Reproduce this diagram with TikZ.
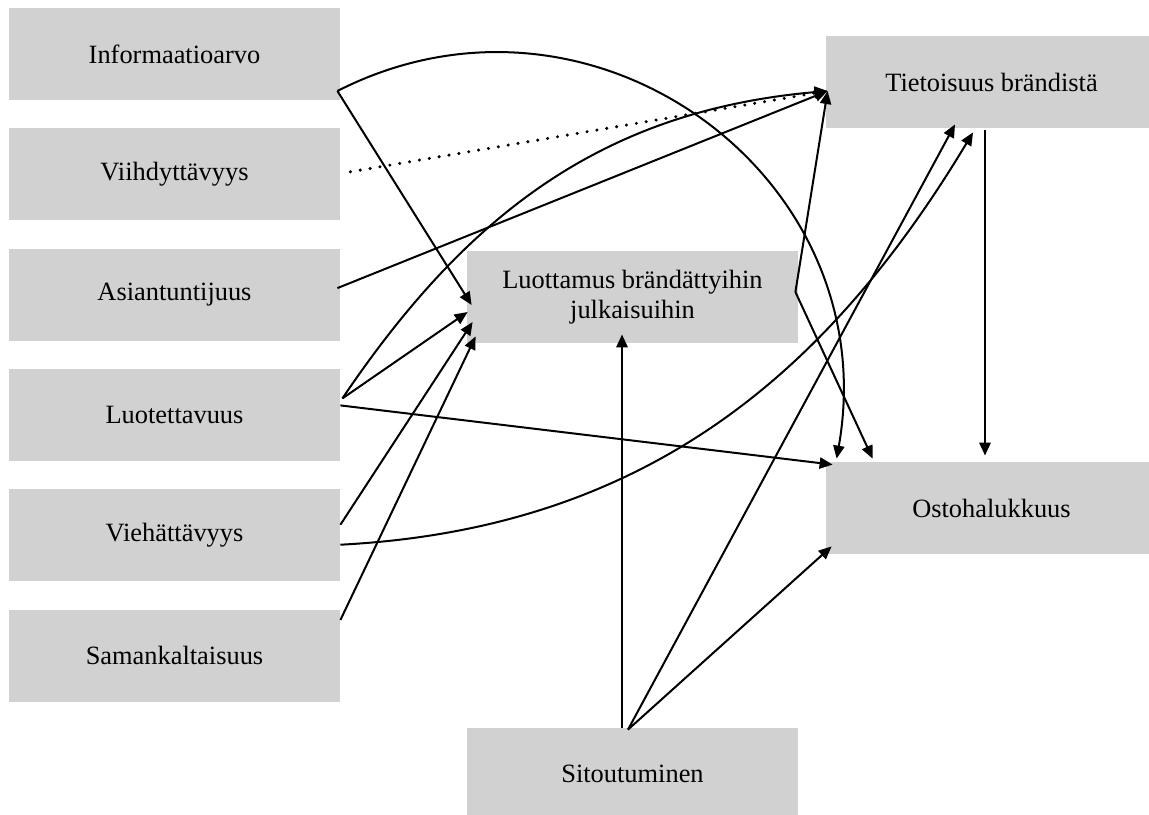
\documentclass[tikz,border=0pt]{standalone}
\usepackage{fontspec}
\setmainfont{Liberation Serif}
\usetikzlibrary{arrows.meta}
\definecolor{boxgray}{RGB}{209,209,209}

\begin{document}
\begin{tikzpicture}[x=0.5pt,y=-0.5pt,
  factor/.style={fill=boxgray,minimum width=165.5pt,minimum height=46pt,inner sep=2pt,align=center,
    font=\fontsize{13.2}{14.8}\selectfont},
  link/.style={line width=1pt,-{Triangle[length=6.5pt,width=5.6pt]}},
  heavy/.style={link,line width=1.25pt},
  dotline/.style={link,line width=1.7pt,line cap=round,dash pattern=on 0pt off 5pt}]
\useasboundingbox (0,0) rectangle (1149,814);
\def\dy{120.3}
\foreach \nm/\txt [count=\i from 0] in {info/Informaatioarvo,viih/Viihdyttävyys,asi/Asiantuntijuus,luot/Luotettavuus,vieh/Viehättävyys,saman/Samankaltaisuus}
  \node[factor] (\nm) at (174.5,{54+\dy*\i}) {\txt};
\node[factor] (trust) at (632.5,297) {Luottamus brändättyihin\\julkaisuihin};
\node[factor] (aware) at (991.5,82) {Tietoisuus brändistä};
\node[factor] (buy) at (991.5,508) {Ostohalukkuus};
\node[factor] (commit) at (632.5,774) {Sitoutuminen};

\coordinate (infoout) at ([shift={(-3,37)}]info.east);
\coordinate (luotout) at ([shift={(2,-16.5)}]luot.east);
\coordinate (trustout) at ([shift={(-3,-5)}]trust.east);
\coordinate (commitout) at ([shift={(-4.5,2)}]commit.north);
\coordinate (awarein) at ([shift={(2,9)}]aware.west);

\draw[link] (infoout) -- ([shift={(5,8)}]trust.west);
\draw[link] (infoout) to[out=27,in=80,looseness=1.18] ([shift={(11,-3)}]buy.north west);
\draw[dotline] ([shift={(10,-2.5)}]viih.east) -- (awarein);
\draw[link] ([shift={(-3,-6.5)}]asi.east) -- (awarein);
\draw[link] (luotout) to[out=56,in=185] (awarein);
\draw[link] (luotout) -- ([shift={(1,15)}]trust.west);
\draw[link] ([shift={(0,-9.5)}]luot.east) -- ([shift={(7,3)}]buy.north west);
\draw[link] ([shift={(0,-10.5)}]vieh.east) -- ([shift={(6,25)}]trust.west);
\draw[link] ([shift={(0,9.5)}]vieh.east) to[out=3,in=239] ([shift={(-18.5,4)}]aware.south);
\draw[link] ([shift={(0,-35.5)}]saman.east) -- ([shift={(9,-7)}]trust.south west);
\draw[link] (trustout) -- (awarein);
\draw[link] (trustout) -- ([shift={(47,-3)}]buy.north west);
\draw[heavy] ([shift={(-10.5,0)}]commit.north) -- ([shift={(-10.5,-9)}]trust.south);
\draw[link] (commitout) -- ([shift={(-36.5,-4)}]aware.south);
\draw[link] (commitout) -- ([shift={(6,-8)}]buy.south west);
\draw[heavy] ([shift={(-6.5,2)}]aware.south) -- ([shift={(-6.5,-6)}]buy.north);
\end{tikzpicture}
\end{document}
